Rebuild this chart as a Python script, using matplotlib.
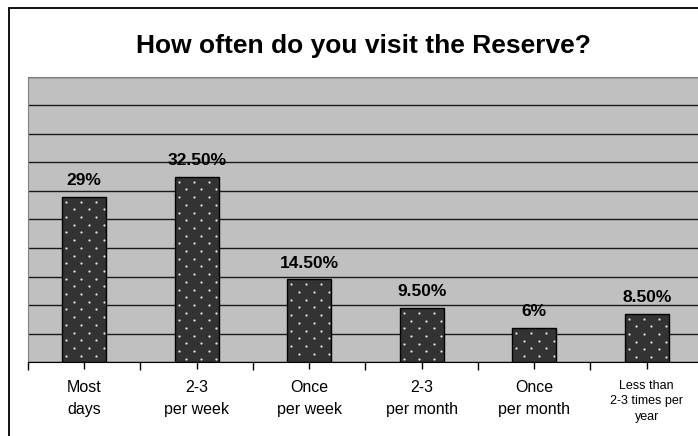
import matplotlib.pyplot as plt
import numpy as np
from matplotlib.ticker import FixedLocator, MultipleLocator
import matplotlib.patches as mpatches

plt.rcParams['font.family'] = ['Liberation Sans', 'DejaVu Sans']

# survey answers
categories = ['Most\ndays', '2-3\nper week', 'Once\nper week',
              '2-3\nper month', 'Once\nper month', 'Less than\n2-3 times per\nyear']
percent = [29, 32.5, 14.5, 9.5, 6, 8.5]
value_labels = ['29%', '32.50%', '14.50%', '9.50%', '6%', '8.50%']

W, H = 698, 436
fig = plt.figure(figsize=(W / 100, H / 100), dpi=100)
fig.patch.set_facecolor('white')

# chart frame around everything
frame = mpatches.Rectangle((9 / W, -0.05), 1.1, 1 - 8 / H + 0.05,
                           transform=fig.transFigure, fill=False,
                           edgecolor='black', linewidth=1.3)
fig.add_artist(frame)

ax_box = [28 / W, 1 - 362 / H, 675 / W, (362 - 77) / H]
ax = fig.add_axes(ax_box)
ax.set_facecolor('#c0c0c0')

x = np.arange(len(categories))
barWidth = 0.39
ymax = 50

ax.bar(x, percent, width=barWidth, color='#333333', linewidth=0, zorder=3)
ax.bar(x, percent, width=barWidth, fill=False, edgecolor='black',
       linewidth=1, zorder=5)

# light dot texture inside each bar (staggered rows)
px_x = ax_box[2] * W / len(categories)   # pixels per category
px_y = ax_box[3] * H / ymax              # pixels per percent
dot_x, dot_y = [], []
for xi, v in zip(x, percent):
    left = xi - barWidth / 2
    row = 0
    y = v - 5 / px_y
    while y > 1 / px_y:
        start = 4 if row % 2 == 0 else 11.5
        cols = np.arange(start, barWidth * px_x - 1.5, 15)
        dot_x.extend(left + cols / px_x)
        dot_y.extend([y] * len(cols))
        y -= 7.7 / px_y
        row += 1
ax.scatter(dot_x, dot_y, s=2.6, color='#e2e2e2', linewidths=0, zorder=4)

for xi, v, lab in zip(x, percent, value_labels):
    ax.annotate(lab, (xi, v), xytext=(0, 8.5), textcoords='offset points',
                ha='center', va='baseline', fontsize=12.5, fontweight='bold',
                zorder=6)

ax.set_xlim(-0.5, len(categories) - 0.5)
ax.set_ylim(0, ymax)
ax.yaxis.set_major_locator(MultipleLocator(5))
ax.grid(axis='y', color='#1a1a1a', linewidth=1, zorder=1)
ax.set_axisbelow(True)
ax.tick_params(axis='y', left=False, labelleft=False)

# ticks on category boundaries and centres
ax.xaxis.set_major_locator(FixedLocator(x))
ax.xaxis.set_minor_locator(FixedLocator(np.arange(len(categories) + 1) - 0.5))
ax.set_xticklabels(categories[:-1] + [''], fontsize=11.5, linespacing=1.6)
ax.tick_params(axis='x', which='major', length=5, width=1, color='black', pad=8)
ax.tick_params(axis='x', which='minor', length=6, width=1, color='black')
ax.text(5, -3.1, categories[-1], ha='center', va='top', fontsize=9,
        linespacing=1.4)

for side in ['left', 'top']:
    ax.spines[side].set_color('#808080')
ax.spines['right'].set_visible(False)
ax.spines['bottom'].set_color('black')

fig.text(363 / W, 1 - 53 / H, 'How often do you visit the Reserve?',
         ha='center', va='baseline', fontsize=19, fontweight='bold')

fig.savefig('out.png', dpi=100)
